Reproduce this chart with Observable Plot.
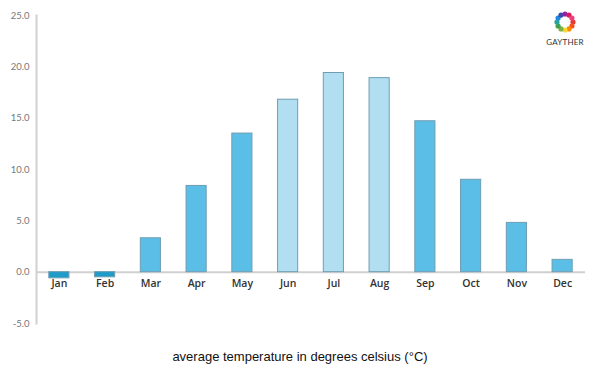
<!DOCTYPE html>
<html>
<head>
<meta charset="utf-8">
<script src="https://cdn.jsdelivr.net/npm/d3@7"></script>
<script src="https://cdn.jsdelivr.net/npm/@observablehq/plot@0.6"></script>
<style>
  body { margin: 0; background: #fff; width: 600px; height: 375px; overflow: hidden; position: relative; }
  #chart svg { display: block; }
  #caption { font-family: "Liberation Sans", Arial, sans-serif; font-size: 13px; color: #111; text-align: center; width: 600px; padding-top: 9px; line-height: 16px; }
  #logo { position: absolute; left: 540px; top: 10px; width: 50px; text-align: center; }
  #logo div { font-family: "Lato", "DejaVu Sans", sans-serif; font-size: 8px; color: #333; letter-spacing: 0.2px; margin-top: -1px; }
</style>
</head>
<body>
<div id="chart"></div>
<div id="caption">average temperature in degrees celsius (°C)</div>
<div id="logo">
  <svg width="24" height="24" viewBox="-12 -12 24 24" id="ring"></svg>
  <div>GAYTHER</div>
</div>
<script>
const months = ["Jan","Feb","Mar","Apr","May","Jun","Jul","Aug","Sep","Oct","Nov","Dec"];
const temps = [-0.6, -0.5, 3.3, 8.4, 13.5, 16.8, 19.4, 18.9, 14.7, 9.0, 4.8, 1.2];
const summerMonths = ["Jun","Jul","Aug"];
const yTicks = [-5, 0, 5, 10, 15, 20, 25];
const logoColors = ["#e53935","#f4511e","#fb8c00","#fdd835","#7cb342","#43a047","#26a69a","#1e88e5","#3949ab","#8e24aa","#d81b60","#ec407a"];

const data = months.map((m, i) => ({month: m, temp: temps[i]}));
const colorOf = d => d.temp < 0 ? "#1f9bc9" : summerMonths.includes(d.month) ? "#b1dff1" : "#5bbee6";

const chart = Plot.plot({
  width: 600,
  height: 340,
  marginTop: 15,
  marginBottom: 17,
  marginLeft: 36,
  marginRight: 15,
  x: {domain: months, paddingInner: 0.56, paddingOuter: 0.28, round: false, axis: null},
  y: {domain: [-5, 25], ticks: yTicks, tickFormat: d => d.toFixed(1), label: null},
  marks: [
    Plot.axisY({ticks: yTicks, tickFormat: d => d.toFixed(1), tickSize: 0, tickPadding: 7, fontSize: 9.5, fill: "#777", label: null, fontFamily: "Lato, 'DejaVu Sans', sans-serif"}),
    Plot.frame({anchor: "left", stroke: "#d0d0d0", strokeWidth: 2}),
    Plot.ruleY([0], {stroke: "#d0d0d0", strokeWidth: 2}),
    Plot.barY(data, {x: "month", y: "temp", fill: colorOf, stroke: "#6f9db3", strokeWidth: 1}),
    Plot.text(data, {x: "month", y: () => 0, text: "month", dy: 11, fontSize: 10.5, fontWeight: 600, fill: "#333", fontFamily: "'Open Sans', Lato, 'DejaVu Sans', sans-serif"})
  ]
});
chart.style.fontFamily = "Lato, 'DejaVu Sans', sans-serif";
document.getElementById("chart").appendChild(chart);

const ring = d3.select("#ring");
logoColors.forEach((c, i) => {
  const a = i / logoColors.length * 2 * Math.PI;
  ring.append("circle").attr("cx", 8 * Math.cos(a)).attr("cy", 8 * Math.sin(a)).attr("r", 2.6).attr("fill", c);
});
</script>
</body>
</html>
